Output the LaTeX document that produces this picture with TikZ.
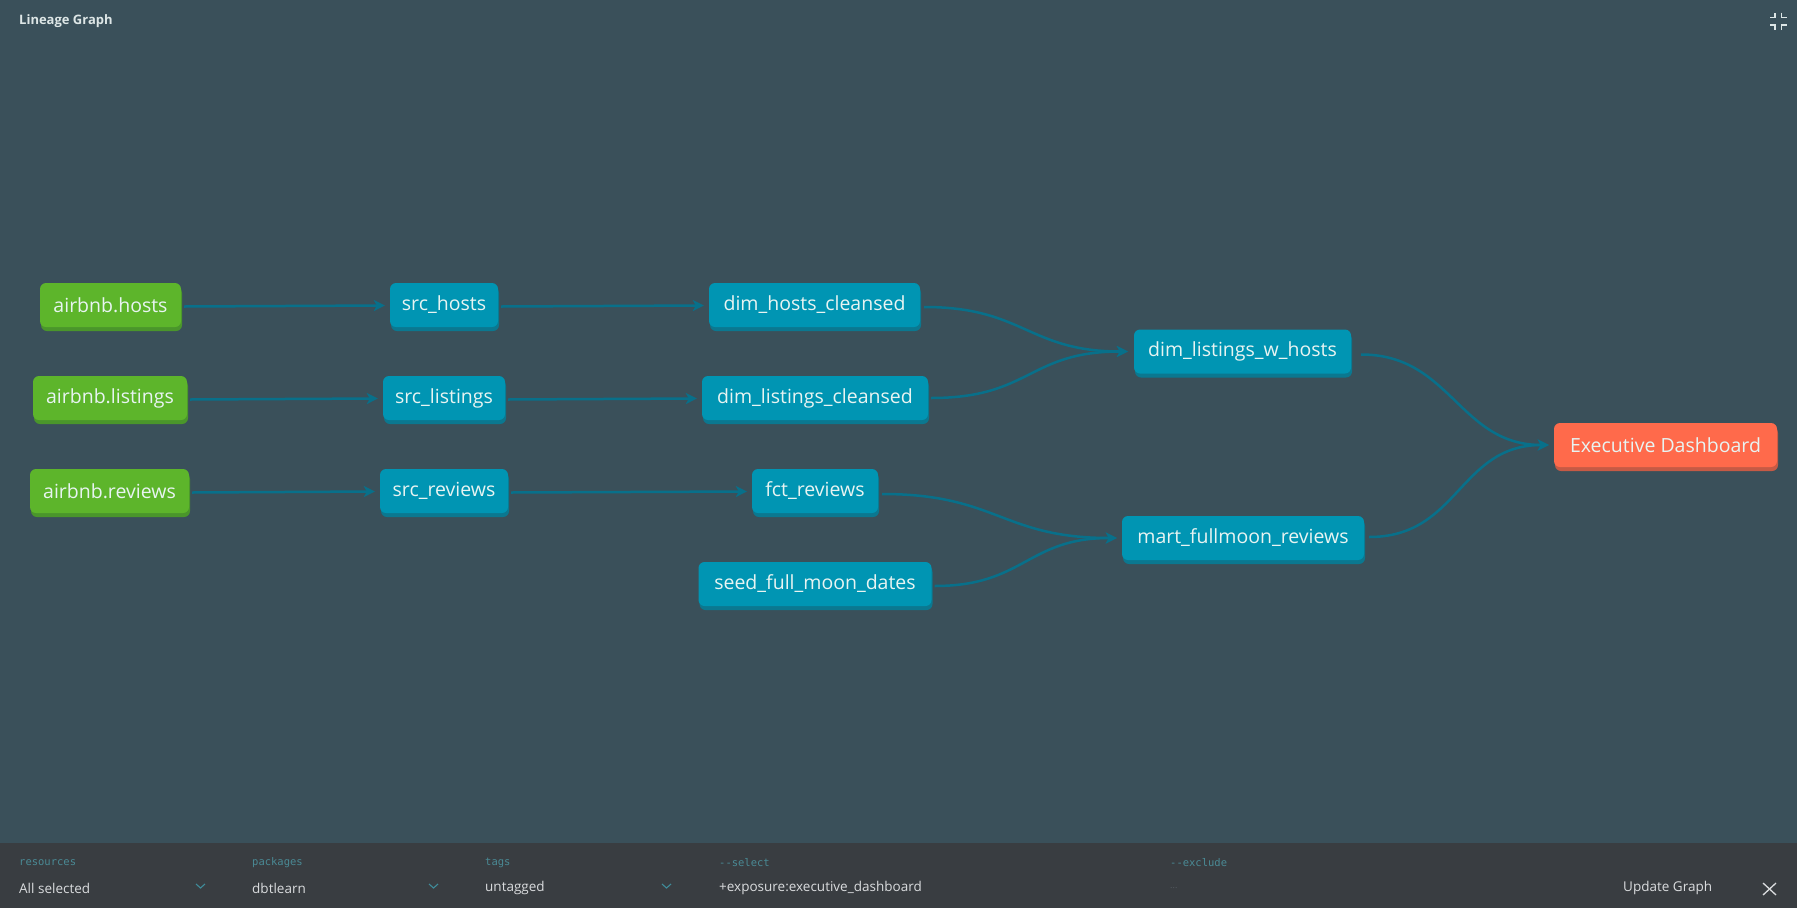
\documentclass[tikz,border=0pt]{standalone}
\usepackage{fontspec}
\setmainfont{Open Sans}
\newfontfamily\monof{DejaVu Sans Mono}
\usetikzlibrary{arrows.meta,shadows}
\definecolor{bgc}{HTML}{3A505A}
\definecolor{barc}{HTML}{393D41}
\definecolor{tealc}{HTML}{0095B3}
\definecolor{tealsh}{HTML}{0B7890}
\definecolor{greenc}{HTML}{5DB52B}
\definecolor{greensh}{HTML}{4A962B}
\definecolor{orangec}{HTML}{FF6A4B}
\definecolor{orangesh}{HTML}{C65A45}
\definecolor{edgec}{HTML}{08708A}
\definecolor{nodetxt}{HTML}{E8F4F2}
\definecolor{titlec}{HTML}{DDE6E6}
\definecolor{labc}{HTML}{4A8A95}
\definecolor{valc}{HTML}{DADCDE}
\definecolor{dimc}{HTML}{555A5F}
\definecolor{chevc}{HTML}{3F8C9A}
\tikzset{
  gnode/.style={rounded corners=6pt, minimum height=44pt, inner xsep=0pt, inner ysep=0pt,
    text=nodetxt, font=\fontsize{19.5}{24}\selectfont, anchor=center},
  mnode/.style={gnode, fill=tealc, general shadow={fill=tealsh, shadow xshift=1pt, shadow yshift=-4pt}},
  srcnode/.style={gnode, fill=greenc, general shadow={fill=greensh, shadow xshift=1pt, shadow yshift=-4pt}},
  expnode/.style={gnode, fill=orangec, general shadow={fill=orangesh, shadow xshift=1pt, shadow yshift=-4pt}},
  lnk/.style={draw=edgec, line width=2.5pt, -{Stealth[length=11pt,width=11pt,inset=3pt]}},
  barlab/.style={anchor=west, inner sep=0pt, text=labc, font=\monof\fontsize{10.5}{12}\selectfont},
  barval/.style={anchor=west, inner sep=0pt, text=valc, font=\fontsize{13.5}{16}\selectfont},
  chev/.style={draw=chevc, line width=1.1pt},
}
\begin{document}
\begin{tikzpicture}[x=1pt,y=-1pt]
\useasboundingbox (0,0) rectangle (1797,908);
\fill[bgc] (0,0) rectangle (1797,908);
\fill[barc] (0,843) rectangle (1797,908);

% title and icon
\node[anchor=west, inner sep=0pt, text=titlec, font=\bfseries\fontsize{13}{15}\selectfont] (title) at (19,21) {Lineage Graph};
\begin{scope}[draw=titlec, line width=1.5pt]
\draw (1770,17.3) -- (1775,17.3) -- (1775,12.7);
\draw (1781.7,12.7) -- (1781.7,17.3) -- (1787.3,17.3);
\draw (1770,25) -- (1775,25) -- (1775,30);
\draw (1781.7,30) -- (1781.7,25) -- (1787.3,25);
\end{scope}

% nodes
\node[srcnode, minimum width=141pt] (ah) at (110.5,305) {airbnb.hosts};
\node[srcnode, minimum width=154pt] (al) at (110,398) {airbnb.listings};
\node[srcnode, minimum width=159pt] (ar) at (109.5,491) {airbnb.reviews};
\node[mnode, minimum width=108pt] (sh) at (444,305) {src\_hosts};
\node[mnode, minimum width=122pt] (sl) at (444,398) {src\_listings};
\node[mnode, minimum width=128pt] (sr) at (444,491) {src\_reviews};
\node[mnode, minimum width=211pt] (dhc) at (814.5,305) {dim\_hosts\_cleansed};
\node[mnode, minimum width=226pt] (dlc) at (815,398) {dim\_listings\_cleansed};
\node[mnode, minimum width=126pt] (fr) at (815,491) {fct\_reviews};
\node[mnode, minimum width=233pt] (sfm) at (815,584) {seed\_full\_moon\_dates};
\node[mnode, minimum width=217pt] (dlwh) at (1242.5,351.5) {dim\_listings\_w\_hosts};
\node[mnode, minimum width=242pt] (mfr) at (1243,538) {mart\_fullmoon\_reviews};
\node[expnode, minimum width=223pt] (ed) at (1665.5,445) {Executive Dashboard};

% straight edges
\draw[lnk] ([xshift=3pt,yshift=-1.5pt]ah.east) -- ([xshift=-5pt,yshift=-0.5pt]sh.west);
\draw[lnk] ([xshift=3pt,yshift=-1.5pt]sh.east) -- ([xshift=-5pt,yshift=-0.5pt]dhc.west);
\draw[lnk] ([xshift=3pt,yshift=-1.5pt]al.east) -- ([xshift=-5pt,yshift=-0.5pt]sl.west);
\draw[lnk] ([xshift=3pt,yshift=-1.5pt]sl.east) -- ([xshift=-5pt,yshift=-0.5pt]dlc.west);
\draw[lnk] ([xshift=3pt,yshift=-1.5pt]ar.east) -- ([xshift=-5pt,yshift=-0.5pt]sr.west);
\draw[lnk] ([xshift=3pt,yshift=-1.5pt]sr.east) -- ([xshift=-5pt,yshift=-0.5pt]fr.west);

% curved edges
\draw[lnk] ([xshift=4pt,yshift=-2pt]dhc.east) .. controls +(100,0) and +(-100,0) .. ([xshift=-6pt]dlwh.west);
\draw[lnk] ([xshift=3pt]dlc.east) .. controls +(100,0) and +(-100,0) .. ([xshift=-6pt]dlwh.west);
\draw[lnk] ([xshift=4pt,yshift=-3pt]fr.east) .. controls +(115,0) and +(-115,0) .. ([xshift=-5pt]mfr.west);
\draw[lnk] ([xshift=3pt,yshift=-2pt]sfm.east) .. controls +(90,0) and +(-90,0) .. ([xshift=-5pt]mfr.west);
\draw[lnk] ([xshift=10pt,yshift=-3pt]dlwh.east) .. controls +(90,0) and +(-90,0) .. ([xshift=-5pt]ed.west);
\draw[lnk] ([xshift=5pt,yshift=1pt]mfr.east) .. controls +(90,0) and +(-90,0) .. ([xshift=-5pt]ed.west);

% bottom bar
\node[barlab] (l1) at (19,863) {resources};
\node[barval] (v1) at (19,888) {All selected};
\draw[chev] (196,884) -- (200.5,888) -- (205,884);
\node[barlab] (l2) at (252,863) {packages};
\node[barval] (v2) at (252,888) {dbtlearn};
\draw[chev] (429,884) -- (433.5,888) -- (438,884);
\node[barlab] (l3) at (485,863) {tags};
\node[barval] (v3) at (485,888) {untagged};
\draw[chev] (662,884) -- (666.5,888) -- (671,884);
\node[barlab] (l4) at (719,863) {-{}-select};
\node[barval] (v4) at (719,888) {+exposure:executive\_dashboard};
\node[barlab] (l5) at (1170,863) {-{}-exclude};
\node[barval, text=dimc, font=\fontsize{9}{10}\selectfont] (v5) at (1170,888) {...};
\node[barval] (ug) at (1623,888) {Update Graph};
\draw[valc, line width=1.3pt] (1763,883) -- (1776,895);
\draw[valc, line width=1.3pt] (1763,895) -- (1776,883);
\end{tikzpicture}
\end{document}
